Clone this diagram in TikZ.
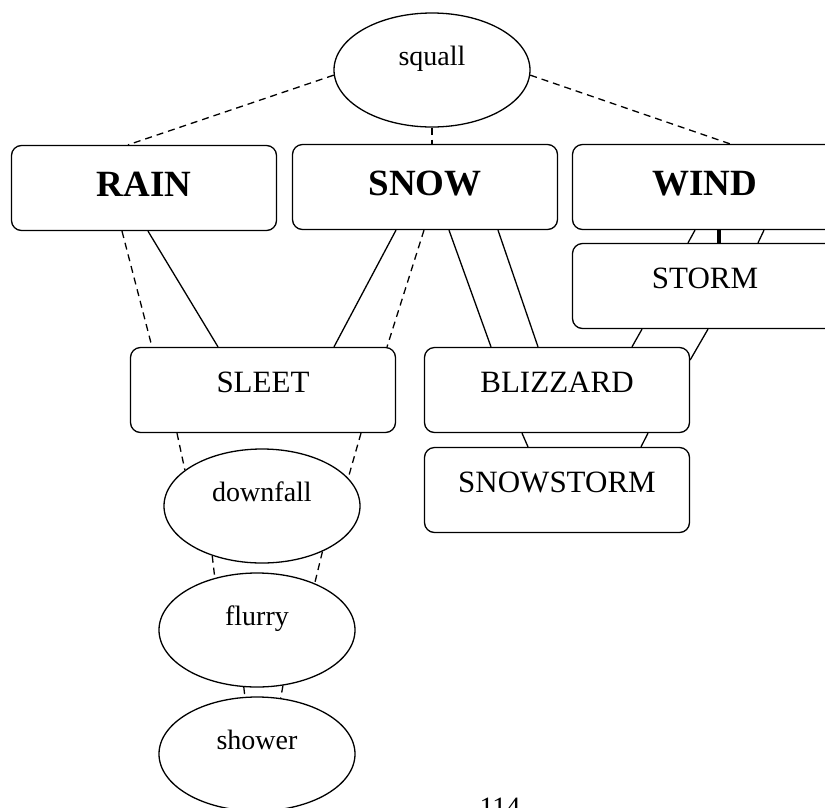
\documentclass[tikz,border=0pt]{standalone}
\usepackage{fontspec}
\setmainfont{Liberation Serif}
\usetikzlibrary{shapes.geometric}
\begin{document}
\begin{tikzpicture}[x=1pt,y=-1pt,line width=1.3pt,
    cat/.style={draw,rounded corners=10pt,minimum width=265pt,minimum height=85pt,inner sep=0pt,
      font=\fontsize{37}{40}\selectfont\bfseries,text height=26pt,text depth=10pt},
    term/.style={draw,rounded corners=10pt,minimum width=265pt,minimum height=85pt,inner sep=0pt,
      font=\fontsize{31}{36}\selectfont,text height=20pt,text depth=16pt},
    word/.style={draw,ellipse,minimum width=196pt,minimum height=114pt,inner sep=0pt,
      font=\fontsize{28}{32}\selectfont,text height=20pt,text depth=30pt},
    weak/.style={dash pattern=on 7pt off 5pt}]
    \useasboundingbox (0,0) rectangle (825,807);
    % categories
    \node[cat] (rain) at (144,188) {RAIN};
    \node[cat] (snow) at (425,187) {SNOW};
    \node[cat] (wind) at (705,187) {WIND};
    % terms
    \node[term] (storm) at (705,286) {STORM};
    \node[term] (sleet) at (263,390) {SLEET};
    \node[term] (blizzard) at (557,390) {BLIZZARD};
    \node[term] (snowstorm) at (557,490) {SNOWSTORM};
    % words
    \node[word] (squall) at (432,70) {squall};
    \node[word] (downfall) at (262,506) {downfall};
    \node[word] (flurry) at (257,630) {flurry};
    \node[word] (shower) at (257,754) {shower};
    \node[font=\fontsize{28}{32}\selectfont,anchor=base] (pagenum) at (500,816) {114};
    % squall links
    \draw[weak] (squall.183) -- ([xshift=-16pt]rain.north);
    \draw[weak] (squall.south) -- (squall.south |- snow.north);
    \draw[weak] (squall.357) -- ([xshift=25pt]wind.north);
    % rain, snow
    \draw[weak] ([xshift=-22pt]rain.south) -- ([xshift=-111pt]sleet.north);
    \draw ([xshift=4pt]rain.south) -- ([xshift=-45pt]sleet.north);
    \draw ([xshift=-29pt]snow.south) -- ([xshift=71pt]sleet.north);
    \draw[weak] ([xshift=-1pt]snow.south) -- ([xshift=124pt]sleet.north);
    \draw ([xshift=24pt]snow.south) -- ([xshift=-66pt]blizzard.north);
    \draw ([xshift=73pt]snow.south) -- ([xshift=-19pt]blizzard.north);
    % wind, storm
    \draw ([xshift=-10pt]wind.south) -- ([xshift=-17pt]storm.north);
    \draw[line width=4pt] ([xshift=14pt]wind.south) -- ([xshift=14pt]storm.north);
    \draw ([xshift=59pt]wind.south) -- ([xshift=53pt]storm.north);
    \draw ([xshift=-63pt]storm.south) -- ([xshift=75pt]blizzard.north);
    \draw ([xshift=3pt]storm.south) -- ([yshift=30pt]blizzard.east);
    \draw ([xshift=-35pt]blizzard.south) -- ([xshift=-29pt]snowstorm.north);
    \draw ([xshift=91pt]blizzard.south) -- ([xshift=84pt]snowstorm.north);
    % word chain
    \draw[weak] ([xshift=-86pt]sleet.south) -- (downfall.155);
    \draw[weak] ([xshift=98pt]sleet.south) -- (downfall.18);
    \draw[weak] (downfall.225) -- (flurry.129);
    \draw[weak] (downfall.323) -- (flurry.39);
    \draw[weak] (flurry.257) -- (shower.102);
    \draw[weak] (flurry.295) -- (shower.67);
\end{tikzpicture}
\end{document}
